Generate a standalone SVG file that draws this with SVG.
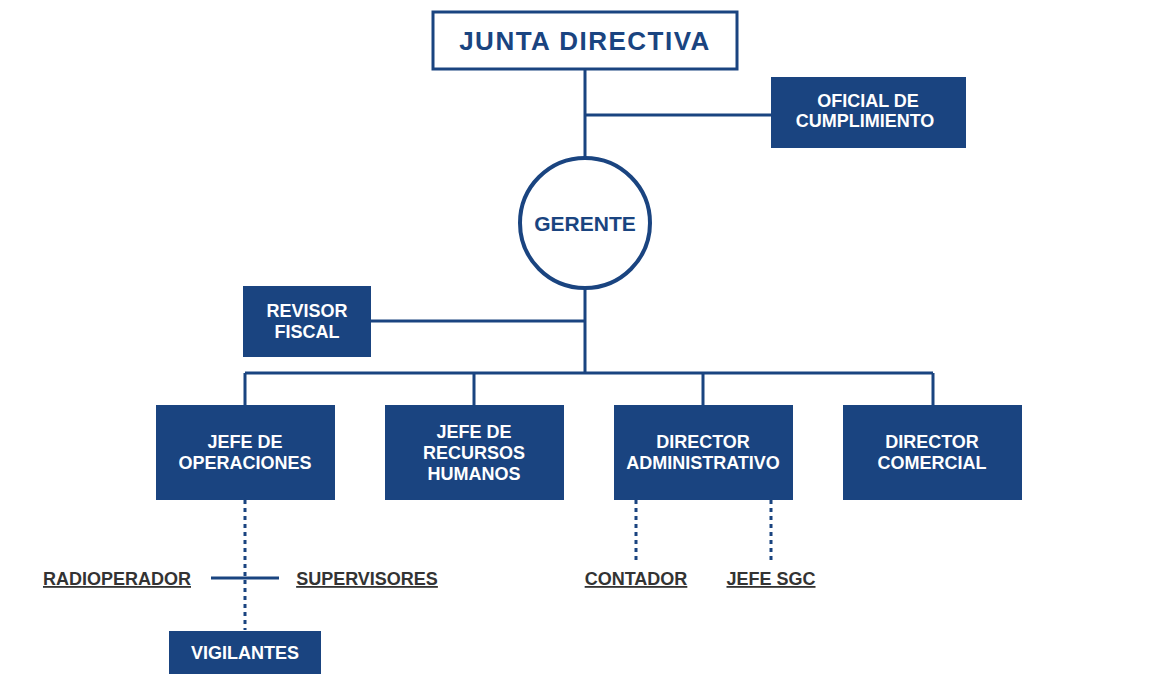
<svg xmlns="http://www.w3.org/2000/svg" width="1170" height="694" viewBox="0 0 1170 694">
<style>
.b{fill:#1a4480}
.t{fill:#fff;font-family:"Liberation Sans",Arial,sans-serif;font-weight:bold;font-size:18px;text-anchor:middle}
.l{stroke:#1a4480;stroke-width:3;fill:none}
.d{stroke:#1a4480;stroke-width:3;fill:none;stroke-dasharray:4 4}
.u{fill:#333;font-family:"Liberation Sans",Arial,sans-serif;font-weight:bold;font-size:18px;text-decoration:underline;text-anchor:middle}
</style>
<rect width="1170" height="694" fill="#fff"/>
<g id="connectors">
<path class="l" d="M585 69V372M585 115H771M371 321H585M245 373H933M245 373V405M474 373V405M703 373V405M933 373V405M211 578H279"/>
<path class="d" d="M245 500V630M636 500V563M771 500V563"/>
</g>
<g id="junta"><rect x="433" y="12" width="304" height="57" fill="#fff" stroke="#1a4480" stroke-width="3"/><text x="585" y="50" text-anchor="middle" font-family="'Liberation Sans',Arial,sans-serif" font-weight="bold" font-size="26" letter-spacing="1.5" fill="#1a4480">JUNTA DIRECTIVA</text></g>
<g id="oficial"><rect class="b" x="771" y="77" width="195" height="71"/><text class="t" x="868" y="107">OFICIAL DE</text><text class="t" x="865" y="127">CUMPLIMIENTO</text></g>
<g id="gerente"><circle cx="585" cy="223" r="65" fill="#fff" stroke="#1a4480" stroke-width="4"/><text x="585" y="231" text-anchor="middle" font-family="'Liberation Sans',Arial,sans-serif" font-weight="bold" font-size="21" fill="#1a4480">GERENTE</text></g>
<g id="revisor"><rect class="b" x="243" y="286" width="128" height="71"/><text class="t" x="307" y="317">REVISOR</text><text class="t" x="307" y="338">FISCAL</text></g>
<g id="operaciones"><rect class="b" x="156" y="405" width="179" height="95"/><text class="t" x="245" y="448">JEFE DE</text><text class="t" x="245" y="469">OPERACIONES</text></g>
<g id="rrhh"><rect class="b" x="385" y="405" width="179" height="95"/><text class="t" x="474" y="438">JEFE DE</text><text class="t" x="474" y="459">RECURSOS</text><text class="t" x="474" y="480">HUMANOS</text></g>
<g id="admin"><rect class="b" x="614" y="405" width="179" height="95"/><text class="t" x="703" y="448">DIRECTOR</text><text class="t" x="703" y="469">ADMINISTRATIVO</text></g>
<g id="comercial"><rect class="b" x="843" y="405" width="179" height="95"/><text class="t" x="932" y="448">DIRECTOR</text><text class="t" x="932" y="469">COMERCIAL</text></g>
<g id="radioperador"><text class="u" x="117" y="585">RADIOPERADOR</text></g>
<g id="supervisores"><text class="u" x="367" y="585">SUPERVISORES</text></g>
<g id="contador"><text class="u" x="636" y="585">CONTADOR</text></g>
<g id="jefesgc"><text class="u" x="771" y="585">JEFE SGC</text></g>
<g id="vigilantes"><rect class="b" x="169" y="631" width="152" height="43"/><text class="t" x="245" y="659">VIGILANTES</text></g>
</svg>
